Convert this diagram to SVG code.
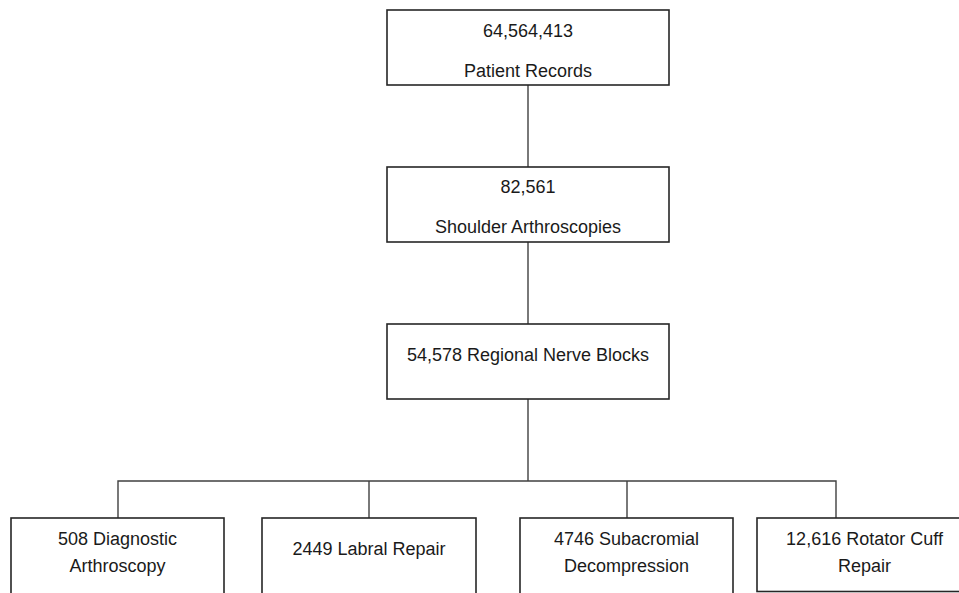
<svg xmlns="http://www.w3.org/2000/svg" width="959" height="593" viewBox="0 0 959 593">
<style>
.box{fill:#fff;stroke:#262626;stroke-width:1.6}
.conn{stroke:#404040;stroke-width:1.4;fill:none}
text{font-family:"Liberation Sans",Arial,sans-serif;font-size:18px;fill:#1a1a1a;text-anchor:middle}
</style>
<rect width="959" height="593" fill="#fff"/>
<g id="connectors">
<line class="conn" x1="528" y1="85" x2="528" y2="167"/>
<line class="conn" x1="528" y1="242" x2="528" y2="324"/>
<line class="conn" x1="528" y1="399" x2="528" y2="481"/>
<polyline class="conn" points="118,518 118,481 836,481 836,518"/>
<line class="conn" x1="369" y1="481" x2="369" y2="518"/>
<line class="conn" x1="627" y1="481" x2="627" y2="518"/>
</g>
<g id="node-patient-records">
<rect class="box" x="387" y="10" width="282" height="75"/>
<text x="528" y="37">64,564,413</text>
<text x="528" y="77">Patient Records</text>
</g>
<g id="node-shoulder-arthroscopies">
<rect class="box" x="387" y="167" width="282" height="75"/>
<text x="528" y="193">82,561</text>
<text x="528" y="233">Shoulder Arthroscopies</text>
</g>
<g id="node-nerve-blocks">
<rect class="box" x="387" y="324" width="282" height="75"/>
<text x="528" y="361">54,578 Regional Nerve Blocks</text>
</g>
<g id="node-diagnostic">
<rect class="box" x="11" y="518" width="213" height="80"/>
<text x="117.5" y="545">508 Diagnostic</text>
<text x="117.5" y="572">Arthroscopy</text>
</g>
<g id="node-labral">
<rect class="box" x="262" y="518" width="214" height="80"/>
<text x="369" y="555">2449 Labral Repair</text>
</g>
<g id="node-subacromial">
<rect class="box" x="520" y="518" width="213" height="80"/>
<text x="626.5" y="545">4746 Subacromial</text>
<text x="626.5" y="572">Decompression</text>
</g>
<g id="node-rotator-cuff">
<rect class="box" x="757" y="518" width="214" height="73.5"/>
<text x="864.5" y="545">12,616 Rotator Cuff</text>
<text x="864.5" y="572">Repair</text>
</g>
</svg>
